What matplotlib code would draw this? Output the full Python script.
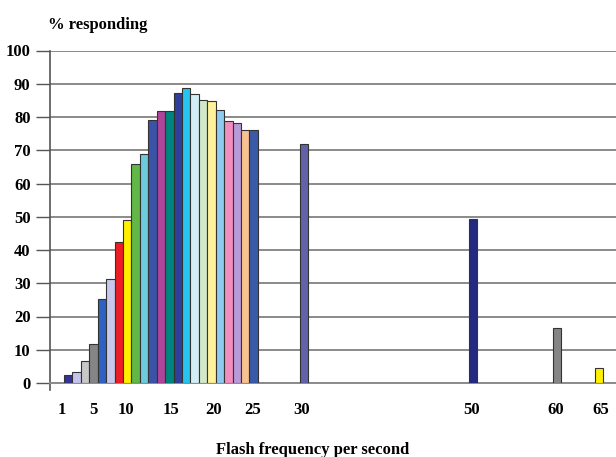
import matplotlib.pyplot as plt

plt.rcParams['font.family'] = ['Liberation Serif', 'DejaVu Serif']
plt.rcParams['font.weight'] = 'bold'

# flashes per second and % of patients responding
freq = list(range(2, 25)) + [30, 50, 60, 65]
responding = [2.5, 3.2, 6.5, 11.8, 25.2, 31.3, 42.4, 49.0, 66.0, 68.8,
              79.0, 81.8, 81.8, 87.2, 88.6, 87.0, 85.2, 84.9, 82.0, 78.9,
              78.2, 76.0, 76.0,
              72.0, 49.2, 16.4, 4.5]
colors = ['#333399', '#c4c4ec', '#c8c8c8', '#858585', '#2f62c0', '#c8c8ec',
          '#ee1c24', '#fff000', '#62b846', '#6ccbdc', '#3a53a6', '#b0449a',
          '#00847e', '#2e4099', '#28c4f0', '#d2edf6', '#d2e8c9', '#fff29a',
          '#8ecbef', '#f28dbf', '#b99ad8', '#f9c190', '#3a5aa8',
          '#6262a8', '#232a80', '#858585', '#fff000']

tick_labels = ['1', '5', '10', '15', '20', '25', '30', '50', '60', '65']
tick_pos = [1.26, 4.94, 8.86, 14.2, 19.3, 23.9, 29.7, 49.9, 59.9, 65.2]

fig = plt.figure(figsize=(6.16, 4.57), dpi=100)
ax = fig.add_axes([50 / 616, 1 - 383 / 457, 566 / 616, 332.5 / 457])

ax.bar(freq, responding, width=1.0, color=colors, edgecolor='#333333',
       linewidth=0.8, zorder=3)

ax.set_xlim(-0.16, 67)
ax.set_ylim(0, 100)
ax.set_yticks(range(0, 101, 10))
ax.yaxis.grid(True, color='#8a8a8a', linewidth=1.4, zorder=0)
ax.tick_params(axis='y', length=10, width=1.0, color='#555555', pad=4,
               labelsize=12)
ax.set_xticks(tick_pos)
ax.set_xticklabels(tick_labels)
ax.tick_params(axis='x', length=0, pad=14, labelsize=12)

for side in ('top', 'right'):
    ax.spines[side].set_visible(False)
ax.spines['left'].set_color('#555555')
ax.spines['left'].set_linewidth(1.2)
ax.spines['left'].set_bounds(-2, 100)
ax.spines['bottom'].set_color('#8a8a8a')
ax.spines['bottom'].set_linewidth(1.4)

fig.text(48 / 616, 1 - 25 / 457, '% responding', fontsize=12,
         fontweight='bold', ha='left', va='center')
fig.text(313 / 616, 1 - 450 / 457, 'Flash frequency per second', fontsize=12,
         fontweight='bold', ha='center', va='center')

fig.savefig('out.png', dpi=100)
